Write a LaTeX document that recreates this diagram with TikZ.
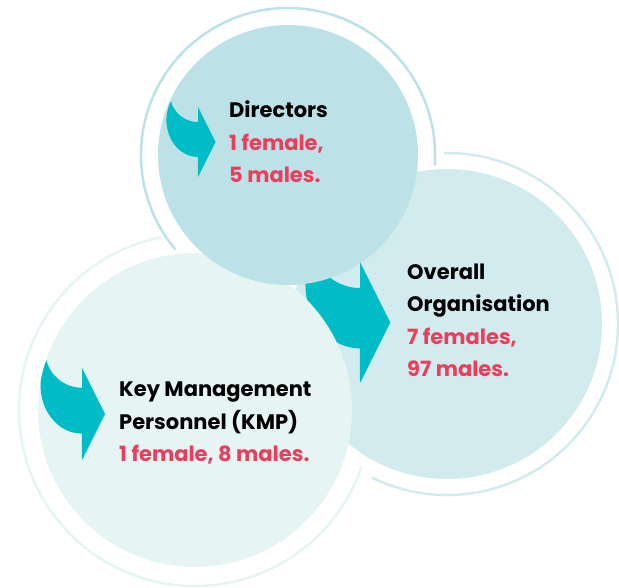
\documentclass[tikz,border=0pt]{standalone}
\usepackage{fontspec}
\setmainfont{Poppins}
\usetikzlibrary{positioning}
\definecolor{dirfill}{HTML}{BCE2E7}
\definecolor{orgfill}{HTML}{D2EBEE}
\definecolor{kmpfill}{HTML}{E6F4F4}
\definecolor{arrowteal}{HTML}{00BCC6}
\definecolor{countred}{HTML}{EA3E5C}

\tikzset{
  bendarrow/.pic={
    \fill[arrowteal] (0.5,0) -- (0,1) -- (0,0.57)
      arc[start angle=270,end angle=195,radius=0.8]
      arc[start angle=149,end angle=270,x radius=0.9,y radius=1.05]
      -- (0,-1) -- cycle;
  }
}

\begin{document}
\begin{tikzpicture}[x=1pt,y=1pt,
    bubble/.style={circle,inner sep=0pt,draw=none},
    ring/.style={line width=2.5pt},
    heading/.style={anchor=base west,align=left,inner sep=0pt,
      font=\bfseries\fontsize{21}{32.5}\selectfont}]
  \useasboundingbox (0,0) rectangle (619,587);

  \draw[ring,orgfill] ([shift={(-116:171)}]447,263) arc[start angle=-116,end angle=91,radius=171];
  \node[bubble,fill=orgfill,minimum size=310pt] (org) at (447,263) {};
  \begin{scope}
    \clip (org.center) circle (155);
    \pic[scale=60.5] at (360,264.5) {bendarrow};
  \end{scope}

  \draw[ring,kmpfill] ([shift={(101:176)}]195,177) arc[start angle=101,end angle=341,radius=176];
  \node[bubble,fill=kmpfill,minimum size=314pt] (kmp) at (195,177) {};
  \begin{scope}
    \clip (kmp.center) circle (157);
    \pic[scale=46] at (82,173) {bendarrow};
  \end{scope}

  \draw[ring,dirfill] ([shift={(-4:147)}]288,432) arc[start angle=-4,end angle=220,radius=147];
  \node[bubble,fill=dirfill,minimum size=260pt] (dir) at (288,432) {};
  \begin{scope}
    \clip (dir.center) circle (130);
    \pic[scale=35] at (198,445) {bendarrow};
  \end{scope}

  \node[heading] (dirtext) at (229,404) {Directors\\\color{countred}1 female,\\\color{countred}5 males.};
  \node[heading] (orgtext) at (407,210) {Overall\\Organisation\\\color{countred}7 females,\\\color{countred}97 males.};
  \node[heading] (kmptext) at (119,125) {Key Management\\Personnel (KMP)\\\color{countred}1 female, 8 males.};
\end{tikzpicture}
\end{document}
